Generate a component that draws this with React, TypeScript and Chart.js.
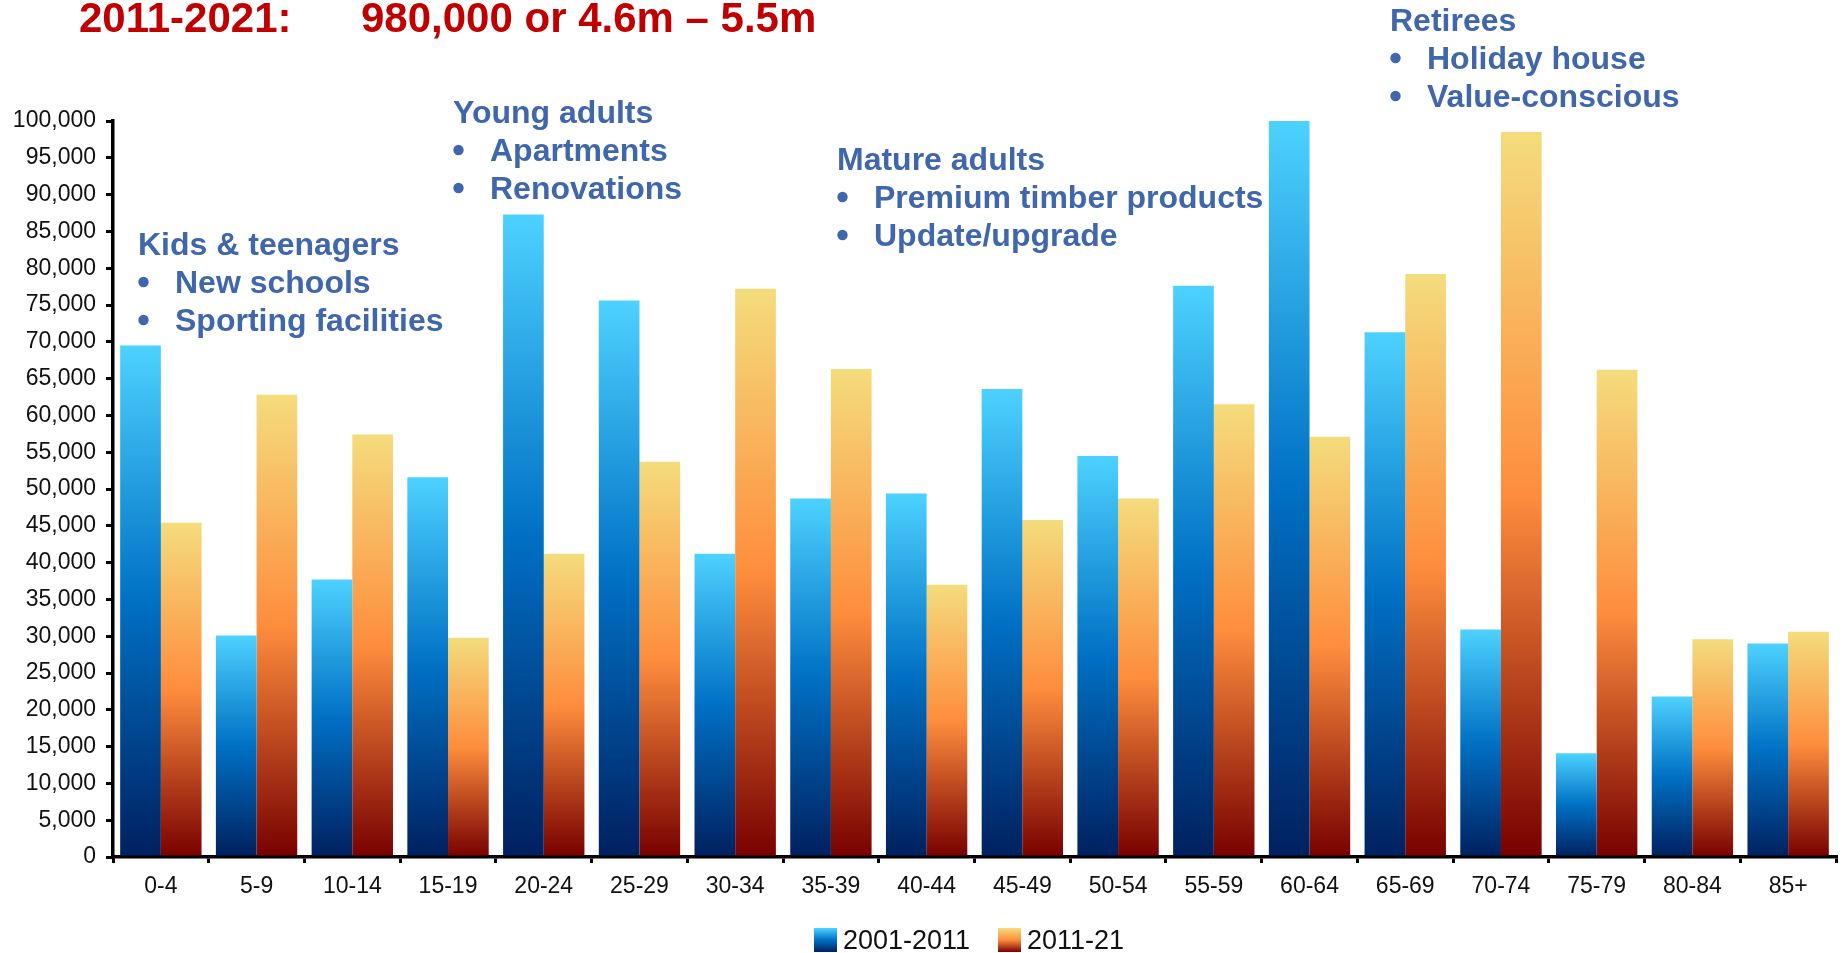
import React, { useEffect, useRef } from "react";
import { Chart, registerables } from "chart.js";

Chart.register(...registerables);

const categories = ["0-4", "5-9", "10-14", "15-19", "20-24", "25-29", "30-34", "35-39", "40-44", "45-49", "50-54", "55-59", "60-64", "65-69", "70-74", "75-79", "80-84", "85+"];
const series2001 = [69500, 30100, 37700, 51600, 87300, 75600, 41200, 48700, 49400, 63600, 54500, 77600, 100000, 71300, 30900, 14100, 21800, 29000];
const series2011 = [45400, 62800, 57400, 29800, 41200, 53700, 77200, 66300, 37000, 45800, 48700, 61500, 57100, 79200, 98500, 66200, 29600, 30600];
const seriesNames = ["2001-2011", "2011-21"];
const titleLeft = "2011-2021:";
const titleRight = "980,000 or 4.6m \u2013 5.5m";
const annotations = [
  { head: "Kids & teenagers", items: ["New schools", "Sporting facilities"], x: 138, y: 255 },
  { head: "Young adults", items: ["Apartments", "Renovations"], x: 453, y: 123 },
  { head: "Mature adults", items: ["Premium timber products", "Update/upgrade"], x: 837, y: 170 },
  { head: "Retirees", items: ["Holiday house", "Value-conscious"], x: 1390, y: 31 },
];

const BLUE_STOPS: [number, string][] = [[0, "#4dd2ff"], [0.5, "#0070c4"], [1, "#00205f"]];
const ORANGE_STOPS: [number, string][] = [[0, "#f4dc7c"], [0.5, "#fe8d3d"], [1, "#780000"]];

function barGradient(stops: [number, string][], fallback: string) {
  return (ctx: any) => {
    const chart = ctx.chart;
    if (!chart.chartArea || ctx.type !== "data" || !chart.scales.y) return fallback;
    const v = ctx.parsed ? ctx.parsed.y : ctx.raw;
    const yTop = chart.scales.y.getPixelForValue(v);
    const yBot = chart.scales.y.getPixelForValue(0);
    if (!isFinite(yTop) || !isFinite(yBot) || yBot - yTop < 1) return fallback;
    const g = chart.ctx.createLinearGradient(0, yTop, 0, yBot);
    stops.forEach(([o, c]) => g.addColorStop(o, c));
    return g;
  };
}

const textPlugin = {
  id: "textPlugin",
  afterDraw(chart: any) {
    const c = chart.ctx;
    c.save();
    // Title
    c.fillStyle = "#c00000";
    c.font = "bold 42px 'Liberation Sans', Arial, sans-serif";
    c.textBaseline = "alphabetic";
    c.textAlign = "left";
    c.fillText(titleLeft, 79, 32);
    c.fillText(titleRight, 361, 32);

    // Annotations
    c.fillStyle = "#4066ac";
    c.font = "bold 32px 'Liberation Sans', Arial, sans-serif";
    annotations.forEach((a) => {
      c.fillText(a.head, a.x, a.y);
      a.items.forEach((it, i) => {
        const by = a.y + 38 * (i + 1);
        c.beginPath();
        c.arc(a.x + 5.5, by - 11, 5.2, 0, Math.PI * 2);
        c.fill();
        c.fillText(it, a.x + 37, by);
      });
    });

    // Legend
    const items = [
      { x: 814, stops: BLUE_STOPS, label: seriesNames[0] },
      { x: 998, stops: ORANGE_STOPS, label: seriesNames[1] },
    ];
    c.font = "27px 'Liberation Sans', Arial, sans-serif";
    c.textBaseline = "middle";
    items.forEach((it) => {
      const g = c.createLinearGradient(0, 928, 0, 952);
      it.stops.forEach(([o, col]) => g.addColorStop(o, col));
      c.fillStyle = g;
      c.fillRect(it.x, 928, 23, 24);
      c.fillStyle = "#111111";
      c.fillText(it.label, it.x + 29, 942);
    });
    c.restore();
  },
};

export default function App() {
  const ref = useRef<HTMLCanvasElement | null>(null);
  useEffect(() => {
    if (!ref.current) return;
    const chart = new Chart(ref.current, {
      type: "bar",
      data: {
        labels: categories,
        datasets: [
          { label: seriesNames[0], data: series2001, backgroundColor: barGradient(BLUE_STOPS, "#0070c4") as any, borderWidth: 0 },
          { label: seriesNames[1], data: series2011, backgroundColor: barGradient(ORANGE_STOPS, "#fe8d3d") as any, borderWidth: 0 },
        ],
      },
      options: {
        responsive: false,
        animation: false,
        devicePixelRatio: 1,
        layout: { padding: { left: 0, top: 121, right: 9, bottom: 0 } },
        datasets: { bar: { categoryPercentage: 0.85, barPercentage: 1.0 } },
        plugins: { legend: { display: false }, tooltip: { enabled: false }, title: { display: false } },
        scales: {
          x: {
            offset: true,
            grid: { display: true, drawOnChartArea: false, offset: true, tickLength: 6, lineWidth: 3, color: "#000" },
            border: { display: true, width: 3.5, color: "#000" },
            ticks: { color: "#111", padding: 10, font: { family: "'Liberation Sans', Arial, sans-serif", size: 23 }, maxRotation: 0, autoSkip: false },
            afterFit: (s: any) => { s.height = 96; },
          },
          y: {
            min: 0,
            max: 100000,
            grid: { display: true, drawOnChartArea: false, tickLength: 7, lineWidth: 3, color: "#000" },
            border: { display: true, width: 3.5, color: "#000" },
            ticks: {
              stepSize: 5000,
              color: "#111",
              padding: 10,
              font: { family: "'Liberation Sans', Arial, sans-serif", size: 23 },
              callback: (v: any) => Number(v).toLocaleString("en-US"),
            },
            afterFit: (s: any) => { s.width = 113; },
          },
        },
      },
      plugins: [textPlugin],
    });
    return () => chart.destroy();
  }, []);
  return (
    <div style={{ position: "absolute", left: 0, top: 0, width: 1845, height: 953, background: "#fff" }}>
      <canvas ref={ref} width={1845} height={953} style={{ display: "block", width: 1845, height: 953 }} />
    </div>
  );
}
